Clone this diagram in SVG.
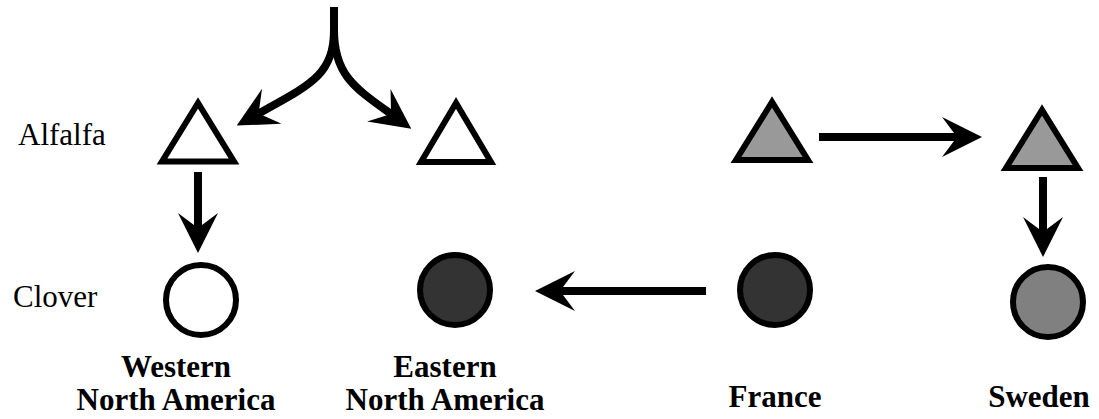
<svg xmlns="http://www.w3.org/2000/svg" width="1099" height="419" viewBox="0 0 1099 419">
<style>
.tri{stroke:#000;stroke-width:6;stroke-linejoin:miter}
.cir{stroke:#000;stroke-width:6}
.con{fill:none;stroke:#000;stroke-width:8;marker-end:url(#ah)}
</style>
<defs>
<marker id="ah" markerUnits="userSpaceOnUse" markerWidth="40" markerHeight="40" viewBox="0 0 40 40" refX="15" refY="20" orient="auto">
<path d="M0,0 L40,20 L0,40 L15,20 Z" fill="#000"/>
</marker>
</defs>
<rect width="1099" height="419" fill="#fff"/>
<g font-family="Liberation Serif, DejaVu Serif, serif" font-size="31" fill="#000">
<text x="18" y="145">Alfalfa</text>
<text x="13" y="307">Clover</text>
</g>
<g id="connectors">
<path class="con" d="M334,7 L334,30 C334,75 310,85 258.6,113.5"/>
<path class="con" d="M334,7 L334,30 C334,75 355,88 391,114"/>
<path class="con" d="M198,172 L198,228"/>
<path class="con" d="M1043,177 L1043,232"/>
<path class="con" d="M819,137 L957,137"/>
<path class="con" d="M706,291 L560,291"/>
</g>
<g id="alfalfa-western"><polygon class="tri" fill="#fff" points="198,103 162,161.5 234,161.5"/></g>
<g id="alfalfa-eastern"><polygon class="tri" fill="#fff" points="456,103 421,162 491,162"/></g>
<g id="alfalfa-france"><polygon class="tri" fill="#999" points="772,102 736,160 808,160"/></g>
<g id="alfalfa-sweden"><polygon class="tri" fill="#999" points="1042,110 1006,168 1078,168"/></g>
<g id="clover-western"><circle class="cir" cx="201" cy="300" r="35" fill="#fff"/></g>
<g id="clover-eastern"><circle class="cir" cx="455" cy="290" r="35" fill="#333"/></g>
<g id="clover-france"><circle class="cir" cx="775" cy="290" r="35" fill="#333"/></g>
<g id="clover-sweden"><circle class="cir" cx="1048" cy="302" r="35" fill="#808080"/></g>
<g font-family="Liberation Serif, DejaVu Serif, serif" font-size="31" font-weight="bold" fill="#000" text-anchor="middle">
<g id="label-western"><text x="176" y="377">Western</text><text x="176" y="410">North America</text></g>
<g id="label-eastern"><text x="445" y="377">Eastern</text><text x="445" y="410">North America</text></g>
<g id="label-france"><text x="775" y="407">France</text></g>
<g id="label-sweden"><text x="1039" y="407">Sweden</text></g>
</g>
</svg>
